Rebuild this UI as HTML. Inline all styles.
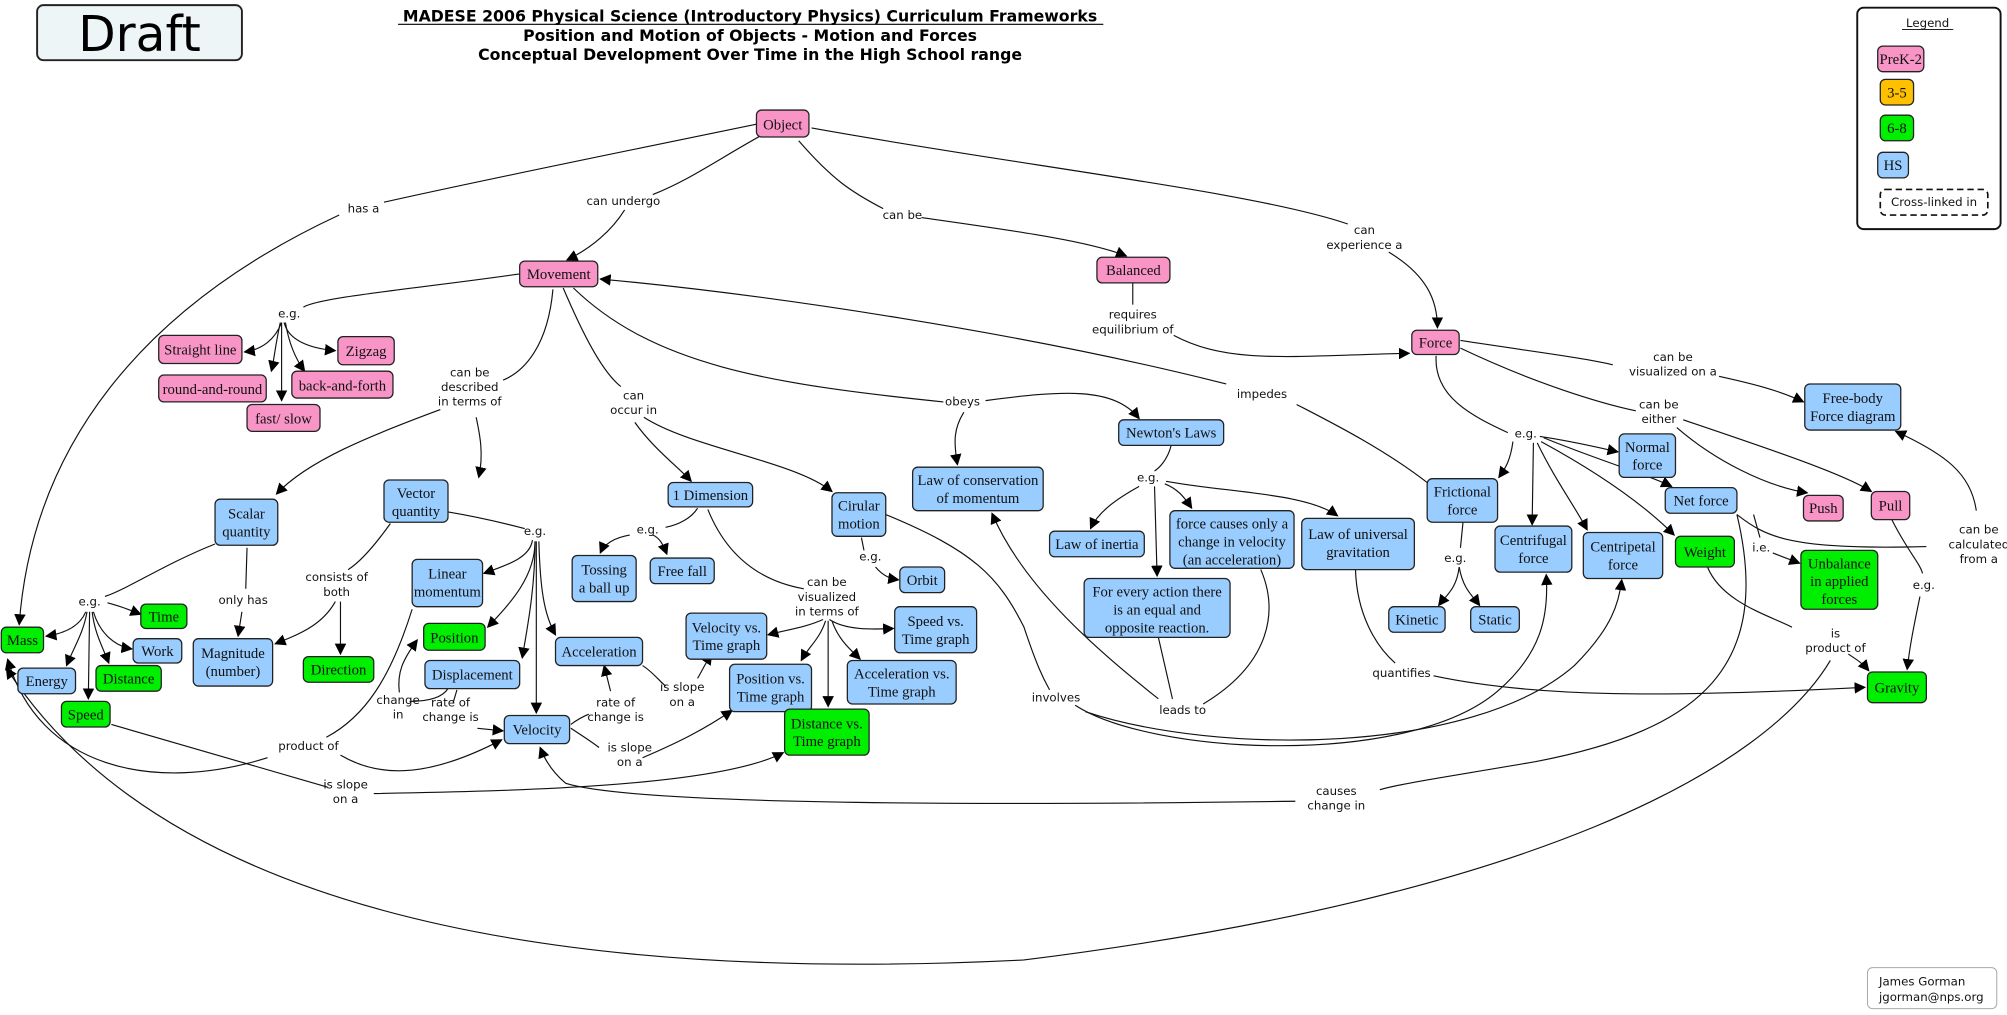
<!DOCTYPE html>
<html><head><meta charset="utf-8"><style>
html,body{margin:0;padding:0;background:#fff;}
svg{display:block;}
.n{stroke:#222;stroke-width:1;}
.p{fill:#F895C6;} .b{fill:#99CCFF;} .g{fill:#00EE00;} .o{fill:#FFC000;}
.t{font-family:"Liberation Serif",serif;font-size:11.5px;fill:#111;text-anchor:middle;}
.l{font-family:"DejaVu Sans","Liberation Sans",sans-serif;font-size:9.2px;fill:#111;text-anchor:middle;}
.e{fill:none;stroke:#111;stroke-width:0.9;}
.a{fill:none;stroke:#111;stroke-width:0.9;marker-end:url(#ar);}
.h{font-family:"DejaVu Sans","Liberation Sans",sans-serif;font-weight:bold;font-size:12.3px;text-anchor:middle;fill:#000;}
</style></head><body>
<svg width="2007" height="1015" viewBox="0 0 1568 793" preserveAspectRatio="none" xmlns="http://www.w3.org/2000/svg">
<defs><marker id="ar" viewBox="0 0 10 10" refX="9" refY="5" markerWidth="9" markerHeight="9" markerUnits="userSpaceOnUse" orient="auto"><path d="M0,0 L10,5 L0,10 z" fill="#000"/></marker></defs>

<!-- header -->
<rect x="29" y="4" width="160" height="43" rx="5" fill="#EEF5F7" stroke="#222" stroke-width="1.5"/>
<text x="109" y="40" font-family="DejaVu Sans,Liberation Sans,sans-serif" font-size="38" text-anchor="middle">Draft</text>
<text class="h" x="586" y="17">MADESE 2006 Physical Science (Introductory Physics) Curriculum Frameworks</text>
<line x1="311" y1="19" x2="862" y2="19" stroke="#000" stroke-width="0.9"/>
<text class="h" x="586" y="32">Position and Motion of Objects - Motion and Forces</text>
<text class="h" x="586" y="47">Conceptual Development Over Time in the High School range</text>

<!-- legend -->
<rect x="1451" y="6" width="112" height="173" rx="5" fill="#fff" stroke="#111" stroke-width="1.5"/>
<text class="l" x="1506" y="21" font-size="10.5">Legend</text>
<line x1="1486" y1="23" x2="1526" y2="23" stroke="#000" stroke-width="0.7"/>
<rect class="n p" x="1467" y="36" width="36" height="20" rx="4"/><text class="t" x="1485" y="50">PreK-2</text>
<rect class="n o" x="1469" y="62" width="26" height="20" rx="4"/><text class="t" x="1482" y="76">3-5</text>
<rect class="n g" x="1469" y="90" width="26" height="20" rx="4"/><text class="t" x="1482" y="104">6-8</text>
<rect class="n b" x="1467" y="119" width="24" height="20" rx="4"/><text class="t" x="1479" y="133">HS</text>
<rect x="1469" y="148" width="84" height="20" rx="4" fill="#fff" stroke="#111" stroke-width="1.3" stroke-dasharray="5,3"/>
<text class="l" x="1511" y="161">Cross-linked in</text>

<!-- edges -->
<path class="e" d="M591,97 C480,120 380,140 300,158"/>
<path class="a" d="M265,168 C110,240 25,350 15,488"/>
<path class="e" d="M598,104 C560,125 540,140 510,152"/>
<path class="a" d="M488,164 C478,180 462,194 443,203"/>
<path class="e" d="M624,110 C650,140 665,150 690,163"/>
<path class="a" d="M720,170 C790,180 850,188 880,200"/>
<path class="e" d="M634,100 C800,130 980,150 1053,175"/>
<path class="a" d="M1085,197 C1115,215 1123,235 1123,256"/>
<path class="e" d="M885,221 L885,238"/>
<path class="a" d="M917,262 C960,285 1010,278 1101,276"/>
<path class="e" d="M406,214 C330,225 250,232 237,240"/>
<path class="a" d="M220,252 C215,265 205,273 191,275"/>
<path class="a" d="M222,252 C225,265 240,272 262,274"/>
<path class="a" d="M219,252 C215,270 214,282 212,290"/>
<path class="a" d="M223,252 C226,270 232,282 238,290"/>
<path class="a" d="M220,252 L220,313"/>
<path class="e" d="M432,226 C428,270 410,290 393,297"/>
<path class="a" d="M344,320 C290,340 240,360 216,386"/>
<path class="a" d="M372,326 C375,340 378,355 374,373"/>
<path class="e" d="M440,225 C455,260 470,290 485,302"/>
<path class="a" d="M496,330 C510,350 530,365 540,376"/>
<path class="a" d="M503,326 C540,350 620,360 650,384"/>
<path class="e" d="M448,225 C510,285 600,300 737,314"/>
<path class="a" d="M770,313 C830,305 870,302 890,327"/>
<path class="a" d="M753,322 C745,335 745,345 748,363"/>
<path class="e" d="M1115,377 C1080,350 1040,330 1013,316"/>
<path class="a" d="M958,300 C800,260 600,230 469,218"/>
<path class="e" d="M1141,266 C1200,275 1240,280 1260,285"/>
<path class="a" d="M1343,294 C1370,300 1390,305 1409,314"/>
<path class="e" d="M1141,272 C1200,300 1250,315 1278,321"/>
<path class="a" d="M1310,334 C1340,360 1380,380 1412,385"/>
<path class="a" d="M1315,328 C1380,350 1440,370 1462,384"/>
<path class="e" d="M1122,278 C1120,310 1150,325 1178,338"/>
<path class="a" d="M1182,345 C1180,360 1176,366 1171,373"/>
<path class="a" d="M1203,341 C1230,345 1250,350 1264,353"/>
<path class="a" d="M1198,346 L1197,410"/>
<path class="a" d="M1201,346 C1215,375 1230,395 1240,414"/>
<path class="a" d="M1204,345 C1250,370 1285,395 1308,418"/>
<path class="a" d="M1206,342 C1250,360 1285,370 1306,380"/>
<path class="e" d="M1370,402 L1375,420"/>
<path class="a" d="M1385,432 C1395,436 1398,437 1406,440"/>
<path class="e" d="M1357,402 C1380,420 1400,430 1505,427"/>
<path class="a" d="M1544,399 C1540,370 1520,355 1481,337"/>
<path class="e" d="M1478,406 C1490,430 1500,440 1502,448"/>
<path class="a" d="M1500,466 C1495,490 1492,505 1490,523"/>
<path class="e" d="M1334,443 C1345,470 1380,480 1400,490"/>
<path class="a" d="M1444,511 C1450,515 1455,518 1460,524"/>
<path class="e" d="M1059,445 C1060,480 1075,505 1090,518"/>
<path class="a" d="M1120,528 C1200,545 1300,545 1457,537"/>
<path class="e" d="M168,425 C130,440 100,460 82,466"/>
<path class="a" d="M67,478 C62,490 50,495 36,497"/>
<path class="a" d="M68,478 C65,495 58,505 52,520"/>
<path class="a" d="M70,478 L69,546"/>
<path class="a" d="M72,478 C74,495 80,505 85,518"/>
<path class="a" d="M73,478 C78,495 90,505 103,507"/>
<path class="a" d="M84,471 C95,474 100,476 110,480"/>
<path class="e" d="M193,428 L192,460"/>
<path class="a" d="M189,478 L186,497"/>
<path class="e" d="M305,409 C290,430 280,440 272,445"/>
<path class="a" d="M262,470 C252,488 235,495 215,503"/>
<path class="a" d="M266,470 L266,511"/>
<path class="e" d="M350,400 C380,405 398,410 410,413"/>
<path class="a" d="M416,422 C414,435 400,440 378,448"/>
<path class="a" d="M418,423 C418,450 400,470 381,490"/>
<path class="a" d="M418,423 C418,460 412,490 408,514"/>
<path class="a" d="M419,423 L419,557"/>
<path class="a" d="M421,423 C422,460 425,480 434,496"/>
<path class="e" d="M322,476 C305,530 285,560 255,576"/>
<path class="a" d="M209,592 C120,620 30,600 6,515"/>
<path class="a" d="M266,590 C300,610 340,605 392,578"/>
<path class="e" d="M350,538 C345,546 332,548 320,548"/>
<path class="a" d="M312,541 C310,525 315,515 326,500"/>
<path class="e" d="M357,539 L354,549"/>
<path class="a" d="M373,569 L393,571"/>
<path class="e" d="M446,566 C450,563 455,560 460,558"/>
<path class="a" d="M477,540 L472,520"/>
<path class="e" d="M502,520 C510,525 515,532 520,536"/>
<path class="a" d="M545,530 C548,525 550,520 556,511"/>
<path class="e" d="M446,569 C455,575 460,578 468,584"/>
<path class="a" d="M502,592 C530,580 550,570 572,555"/>
<path class="e" d="M87,566 L256,615"/>
<path class="a" d="M292,620 C400,618 560,615 612,588"/>
<path class="a" d="M1430,516 C1380,600 1200,700 800,750 C400,770 120,700 5,522"/>
<path class="e" d="M1357,402 C1385,520 1330,570 1200,595 C1130,607 1095,612 1078,617"/>
<path class="a" d="M1012,626 C800,629 500,630 442,612 C430,602 425,592 422,584"/>
<path class="e" d="M905,498 L916,546"/>
<path class="e" d="M985,445 C1000,480 990,520 940,550"/>
<path class="a" d="M905,546 C860,510 800,460 775,401"/>
<path class="e" d="M692,402 C760,430 780,450 800,490 C810,520 815,530 820,539"/>
<path class="a" d="M840,551 C900,590 1100,600 1170,540 C1205,510 1210,480 1208,449"/>
<path class="a" d="M848,556 C950,590 1150,590 1230,520 C1260,490 1265,470 1267,453"/>
<path class="e" d="M915,348 C912,360 905,366 902,368"/>
<path class="a" d="M890,380 C872,390 858,400 852,413"/>
<path class="a" d="M902,380 L904,450"/>
<path class="a" d="M910,378 C920,382 925,388 931,397"/>
<path class="a" d="M911,376 C960,385 1020,385 1045,403"/>
<path class="e" d="M545,397 C540,405 530,410 520,412"/>
<path class="a" d="M492,418 C480,420 472,425 469,432"/>
<path class="a" d="M510,418 C515,420 518,425 521,433"/>
<path class="e" d="M553,398 C570,440 600,455 628,460"/>
<path class="a" d="M643,484 C630,490 615,492 600,496"/>
<path class="a" d="M648,484 C660,492 680,492 698,491"/>
<path class="a" d="M645,485 C640,500 632,505 626,516"/>
<path class="a" d="M650,485 C655,500 665,508 672,515"/>
<path class="a" d="M647,485 L647,552"/>
<path class="e" d="M673,420 L675,430"/>
<path class="a" d="M684,443 C690,450 695,452 702,453"/>
<path class="e" d="M1143,408 L1141,428"/>
<path class="a" d="M1140,443 C1138,460 1130,465 1124,473"/>
<path class="a" d="M1140,443 C1143,460 1150,465 1156,473"/>

<!-- nodes -->
<g>
<rect class="n p" x="591" y="86" width="41" height="21" rx="4"/><text class="t" x="611.5" y="101">Object</text>
<rect class="n p" x="406" y="204" width="61" height="20" rx="4"/><text class="t" x="436.5" y="218">Movement</text>
<rect class="n p" x="857" y="201" width="57" height="20" rx="4"/><text class="t" x="885.5" y="215">Balanced</text>
<rect class="n p" x="1103" y="258" width="37" height="19" rx="4"/><text class="t" x="1121.5" y="271.5">Force</text>
<rect class="n p" x="124" y="262" width="65" height="22" rx="4"/><text class="t" x="156.5" y="277">Straight line</text>
<rect class="n p" x="124" y="293" width="84" height="21" rx="4"/><text class="t" x="166" y="308">round-and-round</text>
<rect class="n p" x="193" y="316" width="57" height="21" rx="4"/><text class="t" x="221.5" y="331">fast/ slow</text>
<rect class="n p" x="228" y="290" width="79" height="21" rx="4"/><text class="t" x="267.5" y="305">back-and-forth</text>
<rect class="n p" x="264" y="263" width="44" height="22" rx="4"/><text class="t" x="286" y="278">Zigzag</text>
<rect class="n p" x="1409" y="387" width="31" height="20" rx="4"/><text class="t" x="1424.5" y="401">Push</text>
<rect class="n p" x="1462" y="384" width="30" height="22" rx="4"/><text class="t" x="1477" y="399">Pull</text>

<rect class="n b" x="168" y="390" width="49" height="36" rx="4"/><text class="t" x="192.5" y="405">Scalar<tspan x="192.5" dy="14">quantity</tspan></text>
<rect class="n b" x="300" y="375" width="50" height="33" rx="4"/><text class="t" x="325" y="389">Vector<tspan x="325" dy="14">quantity</tspan></text>
<rect class="n b" x="322" y="437" width="55" height="37" rx="4"/><text class="t" x="349.5" y="452">Linear<tspan x="349.5" dy="14">momentum</tspan></text>
<rect class="n g" x="331" y="487" width="48" height="21" rx="4"/><text class="t" x="355" y="502">Position</text>
<rect class="n b" x="332" y="516" width="74" height="22" rx="4"/><text class="t" x="369" y="531">Displacement</text>
<rect class="n b" x="434" y="498" width="68" height="22" rx="4"/><text class="t" x="468" y="513">Acceleration</text>
<rect class="n b" x="394" y="559" width="51" height="22" rx="4"/><text class="t" x="419.5" y="574">Velocity</text>
<rect class="n b" x="151" y="499" width="62" height="37" rx="4"/><text class="t" x="182" y="514">Magnitude<tspan x="182" dy="14">(number)</tspan></text>
<rect class="n g" x="237" y="513" width="55" height="20" rx="4"/><text class="t" x="264.5" y="527">Direction</text>
<rect class="n g" x="1" y="490" width="33" height="20" rx="4"/><text class="t" x="17.5" y="504">Mass</text>
<rect class="n b" x="14" y="522" width="45" height="20" rx="4"/><text class="t" x="36.5" y="536">Energy</text>
<rect class="n g" x="75" y="520" width="51" height="20" rx="4"/><text class="t" x="100.5" y="534">Distance</text>
<rect class="n g" x="48" y="548" width="38" height="20" rx="4"/><text class="t" x="67" y="562">Speed</text>
<rect class="n b" x="104" y="499" width="38" height="19" rx="4"/><text class="t" x="123" y="512.5">Work</text>
<rect class="n g" x="110" y="472" width="36" height="19" rx="4"/><text class="t" x="128" y="485.5">Time</text>

<rect class="n b" x="522" y="377" width="66" height="19" rx="4"/><text class="t" x="555" y="390.5">1 Dimension</text>
<rect class="n b" x="650" y="385" width="42" height="34" rx="4"/><text class="t" x="671" y="399">Cirular<tspan x="671" dy="14">motion</tspan></text>
<rect class="n b" x="447" y="434" width="50" height="36" rx="4"/><text class="t" x="472" y="449">Tossing<tspan x="472" dy="14">a ball up</tspan></text>
<rect class="n b" x="508" y="436" width="50" height="20" rx="4"/><text class="t" x="533" y="450">Free fall</text>
<rect class="n b" x="703" y="443" width="35" height="20" rx="4"/><text class="t" x="720.5" y="457">Orbit</text>
<rect class="n b" x="536" y="479" width="63" height="36" rx="4"/><text class="t" x="567.5" y="494">Velocity vs.<tspan x="567.5" dy="14">Time graph</tspan></text>
<rect class="n b" x="699" y="474" width="64" height="36" rx="4"/><text class="t" x="731" y="489">Speed vs.<tspan x="731" dy="14">Time graph</tspan></text>
<rect class="n b" x="570" y="519" width="64" height="37" rx="4"/><text class="t" x="602" y="534">Position vs.<tspan x="602" dy="14">Time graph</tspan></text>
<rect class="n b" x="662" y="516" width="85" height="34" rx="4"/><text class="t" x="704.5" y="530">Acceleration vs.<tspan x="704.5" dy="14">Time graph</tspan></text>
<rect class="n g" x="613" y="554" width="66" height="36" rx="4"/><text class="t" x="646" y="569">Distance vs.<tspan x="646" dy="14">Time graph</tspan></text>

<rect class="n b" x="713" y="365" width="102" height="34" rx="4"/><text class="t" x="764" y="379">Law of conservation<tspan x="764" dy="14">of momentum</tspan></text>
<rect class="n b" x="874" y="328" width="82" height="20" rx="4"/><text class="t" x="915" y="342">Newton's Laws</text>
<rect class="n b" x="820" y="415" width="74" height="20" rx="4"/><text class="t" x="857" y="429">Law of inertia</text>
<rect class="n b" x="914" y="399" width="97" height="45" rx="4"/><text class="t" x="962.5" y="413">force causes only a<tspan x="962.5" dy="14">change in velocity</tspan><tspan x="962.5" dy="14">(an acceleration)</tspan></text>
<rect class="n b" x="847" y="452" width="114" height="46" rx="4"/><text class="t" x="904" y="466">For every action there<tspan x="904" dy="14">is an equal and</tspan><tspan x="904" dy="14">opposite reaction.</tspan></text>
<rect class="n b" x="1017" y="405" width="88" height="40" rx="4"/><text class="t" x="1061" y="421">Law of universal<tspan x="1061" dy="14">gravitation</tspan></text>

<rect class="n b" x="1115" y="374" width="55" height="34" rx="4"/><text class="t" x="1142.5" y="388">Frictional<tspan x="1142.5" dy="14">force</tspan></text>
<rect class="n b" x="1085" y="474" width="44" height="20" rx="4"/><text class="t" x="1107" y="488">Kinetic</text>
<rect class="n b" x="1149" y="474" width="38" height="20" rx="4"/><text class="t" x="1168" y="488">Static</text>
<rect class="n b" x="1168" y="411" width="60" height="36" rx="4"/><text class="t" x="1198" y="426">Centrifugal<tspan x="1198" dy="14">force</tspan></text>
<rect class="n b" x="1237" y="416" width="62" height="36" rx="4"/><text class="t" x="1268" y="431">Centripetal<tspan x="1268" dy="14">force</tspan></text>
<rect class="n g" x="1309" y="419" width="46" height="24" rx="4"/><text class="t" x="1332" y="435">Weight</text>
<rect class="n b" x="1265" y="339" width="44" height="34" rx="4"/><text class="t" x="1287" y="353">Normal<tspan x="1287" dy="14">force</tspan></text>
<rect class="n b" x="1301" y="381" width="56" height="20" rx="4"/><text class="t" x="1329" y="395">Net force</text>
<rect class="n g" x="1407" y="430" width="60" height="46" rx="4"/><text class="t" x="1437" y="444">Unbalance<tspan x="1437" dy="14">in applied</tspan><tspan x="1437" dy="14">forces</tspan></text>
<rect class="n b" x="1410" y="300" width="75" height="36" rx="4"/><text class="t" x="1447.5" y="315">Free-body<tspan x="1447.5" dy="14">Force diagram</tspan></text>
<rect class="n g" x="1459" y="525" width="46" height="24" rx="4"/><text class="t" x="1482" y="541">Gravity</text>
</g>

<!-- labels -->
<g class="l">
<text class="l" x="284" y="166">has a</text>
<text class="l" x="487" y="160">can undergo</text>
<text class="l" x="705" y="171">can be</text>
<text class="l" x="1066" y="183">can<tspan x="1066" dy="11.5">experience a</tspan></text>
<text class="l" x="226" y="248">e.g.</text>
<text class="l" x="367" y="294">can be<tspan x="367" dy="11.5">described</tspan><tspan x="367" dy="11.5">in terms of</tspan></text>
<text class="l" x="495" y="312">can<tspan x="495" dy="11.5">occur in</tspan></text>
<text class="l" x="752" y="317">obeys</text>
<text class="l" x="986" y="311">impedes</text>
<text class="l" x="885" y="249">requires<tspan x="885" dy="11.5">equilibrium of</tspan></text>
<text class="l" x="1307" y="282">can be<tspan x="1307" dy="11.5">visualized on a</tspan></text>
<text class="l" x="1296" y="319">can be<tspan x="1296" dy="11.5">either</tspan></text>
<text class="l" x="1192" y="342">e.g.</text>
<text class="l" x="897" y="376">e.g.</text>
<text class="l" x="418" y="418">e.g.</text>
<text class="l" x="70" y="473">e.g.</text>
<text class="l" x="190" y="472">only has</text>
<text class="l" x="263" y="454">consists of<tspan x="263" dy="11.5">both</tspan></text>
<text class="l" x="506" y="417">e.g.</text>
<text class="l" x="646" y="458">can be<tspan x="646" dy="11.5">visualized</tspan><tspan x="646" dy="11.5">in terms of</tspan></text>
<text class="l" x="680" y="438">e.g.</text>
<text class="l" x="1137" y="439">e.g.</text>
<text class="l" x="1376" y="431">i.e.</text>
<text class="l" x="1546" y="417">can be<tspan x="1546" dy="11.5">calculated</tspan><tspan x="1546" dy="11.5">from a</tspan></text>
<text class="l" x="1503" y="460">e.g.</text>
<text class="l" x="1434" y="498">is<tspan x="1434" dy="11.5">product of</tspan></text>
<text class="l" x="1095" y="529">quantifies</text>
<text class="l" x="825" y="548">involves</text>
<text class="l" x="924" y="558">leads to</text>
<text class="l" x="1044" y="621">causes<tspan x="1044" dy="11.5">change in</tspan></text>
<text class="l" x="270" y="616">is slope<tspan x="270" dy="11.5">on a</tspan></text>
<text class="l" x="241" y="586">product of</text>
<text class="l" x="311" y="550">change<tspan x="311" dy="11.5">in</tspan></text>
<text class="l" x="352" y="552">rate of<tspan x="352" dy="11.5">change is</tspan></text>
<text class="l" x="481" y="552">rate of<tspan x="481" dy="11.5">change is</tspan></text>
<text class="l" x="533" y="540">is slope<tspan x="533" dy="11.5">on a</tspan></text>
<text class="l" x="492" y="587">is slope<tspan x="492" dy="11.5">on a</tspan></text>
</g>

<rect x="1459" y="756" width="101" height="32" rx="4" fill="#fff" stroke="#aaa" stroke-width="0.8"/>
<text class="l" x="1468" y="770" style="text-anchor:start">James Gorman</text>
<text class="l" x="1468" y="782" style="text-anchor:start">jgorman@nps.org</text>
</svg>
</body></html>
